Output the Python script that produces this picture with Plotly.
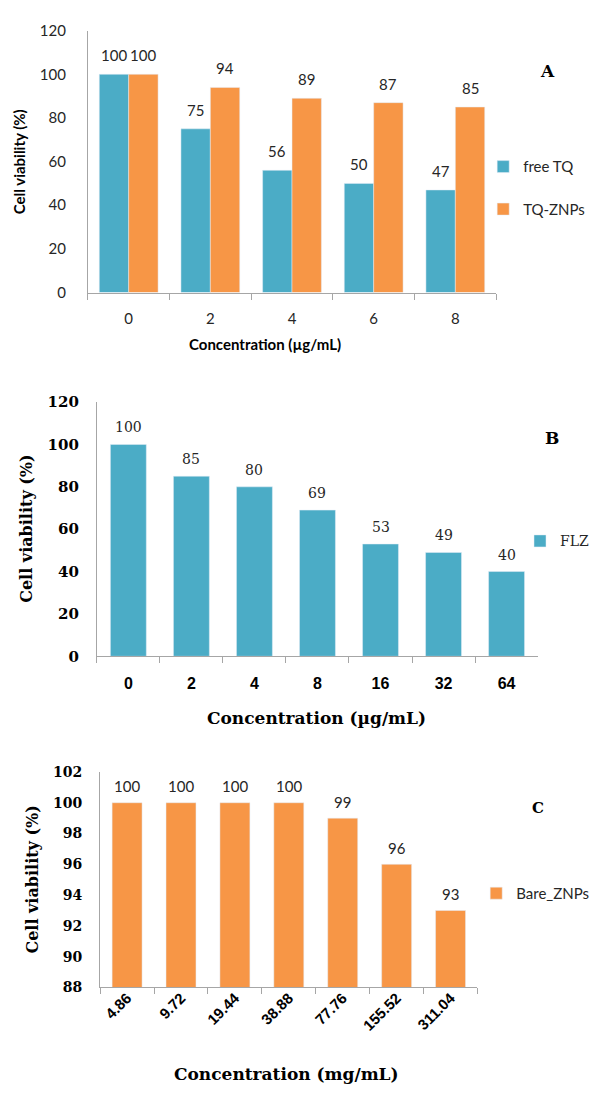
import plotly.graph_objects as go

W, H = 595, 1095

# ---------------- data ----------------
# Panel A
a_conc = ["0", "2", "4", "6", "8"]
a_free_tq = [100, 75, 56, 50, 47]
a_tq_znps = [100, 94, 89, 87, 85]
a_yticks = [0, 20, 40, 60, 80, 100, 120]

# Panel B
b_conc = ["0", "2", "4", "8", "16", "32", "64"]
b_flz = [100, 85, 80, 69, 53, 49, 40]
b_yticks = [0, 20, 40, 60, 80, 100, 120]

# Panel C
c_conc = ["4.86", "9.72", "19.44", "38.88", "77.76", "155.52", "311.04"]
c_bare = [100, 100, 100, 100, 99, 96, 93]
c_yticks = [88, 90, 92, 94, 96, 98, 100, 102]

# ---------------- styles ----------------
BLUE = "#4BACC6"
ORANGE = "#F79646"
AXIS = "#A6A6A6"
TXT = "#262626"
SANS = "Lato, 'Open Sans', sans-serif"
SERIF = "'DejaVu Serif', serif"
ARIAL = "'Liberation Sans', Arial, sans-serif"


def fx(px):
    return px / W


def fy(py):
    return 1 - py / H


fig = go.Figure()

# Panel A bars (grouped, explicit offsets)
fig.add_trace(go.Bar(x=a_conc, y=a_free_tq, name="free TQ", marker_color=BLUE,
                     offset=-0.36, width=0.36, xaxis="x", yaxis="y", legend="legend"))
fig.add_trace(go.Bar(x=a_conc, y=a_tq_znps, name="TQ-ZNPs", marker_color=ORANGE,
                     offset=0.0, width=0.36, xaxis="x", yaxis="y", legend="legend",
                     legendgroup="g2"))
# Panel B
fig.add_trace(go.Bar(x=b_conc, y=b_flz, name="FLZ", marker_color=BLUE, width=0.57,
                     xaxis="x2", yaxis="y2", legend="legend2"))
# Panel C
fig.add_trace(go.Bar(x=c_conc, y=c_bare, name="Bare_ZNPs", marker_color=ORANGE, width=0.556,
                     xaxis="x3", yaxis="y3", legend="legend3"))

ann = []
# value labels
for i, v in enumerate(a_free_tq):
    ann.append(dict(x=i - 0.18, y=v, xref="x", yref="y", text=str(v), showarrow=False,
                    yshift=19, font=dict(family=SANS, size=15, color=TXT)))
for i, v in enumerate(a_tq_znps):
    ann.append(dict(x=i + 0.18, y=v, xref="x", yref="y", text=str(v), showarrow=False,
                    yshift=19, font=dict(family=SANS, size=15, color=TXT)))
for i, v in enumerate(b_flz):
    ann.append(dict(x=i, y=v, xref="x2", yref="y2", text=str(v), showarrow=False,
                    yshift=17, font=dict(family=SERIF, size=14, color=TXT)))
for i, v in enumerate(c_bare):
    ann.append(dict(x=i, y=v, xref="x3", yref="y3", text=str(v), showarrow=False,
                    yshift=16.5, font=dict(family=SANS, size=15, color=TXT)))


def paper_text(text, x, y, font, angle=0):
    ann.append(dict(x=fx(x), y=fy(y), xref="paper", yref="paper", text=text,
                    showarrow=False, textangle=angle, xanchor="center", yanchor="middle",
                    font=font))


# axis titles
paper_text("<b>Cell viability (%)</b>", 19, 154, dict(family=SANS, size=15, color="black"), -90)
paper_text("<b>Concentration (µg/mL)</b>", 265, 340, dict(family=SANS, size=15, color="black"))
paper_text("<b>Cell viability (%)</b>", 27, 528, dict(family=SERIF, size=16, color="black"), -90)
paper_text("<b>Concentration (µg/mL)</b>", 317, 720, dict(family=SERIF, size=17, color="black"))
paper_text("<b>Cell viability (%)</b>", 33, 885, dict(family=SERIF, size=16, color="black"), -90)
paper_text("<b>Concentration (mg/mL)</b>", 287, 1083, dict(family=SERIF, size=17, color="black"))
# panel letters
paper_text("<b>A</b>", 548, 62, dict(family=SERIF, size=17, color="black"))
paper_text("<b>B</b>", 553, 436, dict(family=SERIF, size=17, color="black"))
paper_text("<b>C</b>", 539, 812, dict(family=SERIF, size=15, color="black"))


def xax(domain, anchor, n, font, angle=None, standoff=0):
    d = dict(domain=domain, anchor=anchor, type="category", range=[-0.5, n - 0.5],
             showline=True, linecolor=AXIS, linewidth=1, showgrid=False, zeroline=False,
             ticks="outside", tickson="boundaries", ticklen=6, tickcolor=AXIS, tickwidth=1,
             tickfont=font, ticklabelstandoff=standoff, fixedrange=True)
    if angle is not None:
        d["tickangle"] = angle
    return d


def yax(domain, anchor, rng, tickvals, font, standoff):
    return dict(domain=domain, anchor=anchor, range=rng, tickmode="array", tickvals=tickvals,
                showline=True, linecolor=AXIS, linewidth=1, showgrid=False, zeroline=False,
                ticks="", tickfont=font, ticklabelstandoff=standoff, fixedrange=True)


fig.update_layout(
    width=W, height=H, margin=dict(l=0, r=0, t=0, b=0),
    paper_bgcolor="white", plot_bgcolor="white",
    barmode="group", showlegend=True,
    xaxis=xax([fx(88), fx(497)], "y", len(a_conc), dict(family=SANS, size=15, color=TXT), standoff=12),
    yaxis=yax([fy(287.5), fy(21)], "x", [0, 120], a_yticks, dict(family=SANS, size=15, color=TXT), 18),
    xaxis2=xax([fx(97), fx(539)], "y2", len(b_conc),
               dict(family=ARIAL, size=16, color="black", weight="bold"), standoff=13),
    yaxis2=yax([fy(657.7), fy(399)], "x2", [0, 120], b_yticks,
               dict(family=SERIF, size=15, color="black", weight="bold"), 14),
    xaxis3=xax([fx(100.3), fx(478.3)], "y3", len(c_conc),
               dict(family=ARIAL, size=15, color="black", weight="bold"), angle=-45, standoff=-5),
    yaxis3=yax([fy(994.7), fy(775.4)], "x3", [88, 102], c_yticks,
               dict(family=SERIF, size=14, color="black", weight="bold"), 14),
    legend=dict(x=fx(484), y=fy(181), xanchor="left", yanchor="middle", bgcolor="rgba(0,0,0,0)",
                font=dict(family=SANS, size=15, color=TXT), traceorder="grouped", tracegroupgap=20),
    legend2=dict(x=fx(521), y=fy(540.7), xanchor="left", yanchor="middle", bgcolor="rgba(0,0,0,0)",
                 font=dict(family=SERIF, size=14, color=TXT)),
    legend3=dict(x=fx(477), y=fy(899), xanchor="left", yanchor="middle", bgcolor="rgba(0,0,0,0)",
                 font=dict(family=SANS, size=15, color=TXT)),
    annotations=ann,
)

fig.write_html(
    "out.html",
    config={"displayModeBar": False},
    post_script="document.documentElement.style.margin='0';document.body.style.margin='0';"
                "document.body.style.overflow='hidden';document.documentElement.style.overflow='hidden';",
)
